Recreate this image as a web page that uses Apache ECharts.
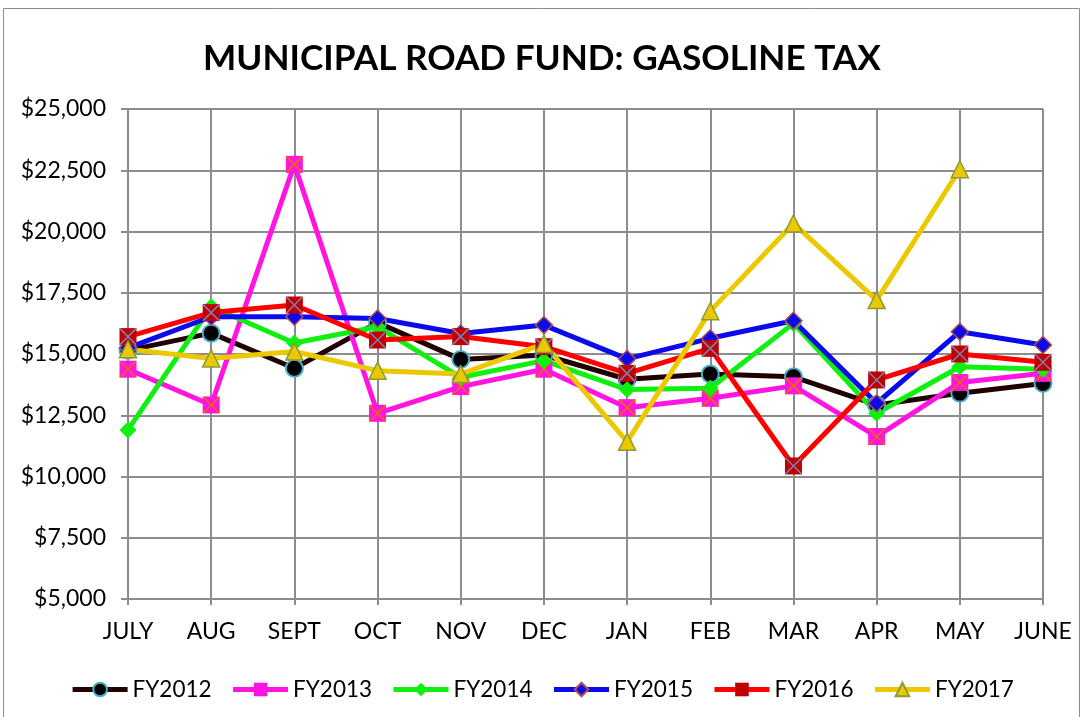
<!DOCTYPE html>
<html>
<head>
<meta charset="utf-8">
<title>Municipal Road Fund: Gasoline Tax</title>
<script src="https://cdn.jsdelivr.net/npm/echarts@6/dist/echarts.min.js"></script>
<style>
  html, body { margin: 0; padding: 0; background: #fff; }
  #chart { width: 1084px; height: 717px; }
</style>
</head>
<body>
<div id="chart"></div>
<script>
var months = ["JULY", "AUG", "SEPT", "OCT", "NOV", "DEC", "JAN", "FEB", "MAR", "APR", "MAY", "JUNE"];
var fy2012 = [15150, 15850, 14420, 16280, 14780, 14960, 13970, 14180, 14070, 12920, 13400, 13800];
var fy2013 = [14380, 12920, 22740, 12580, 13670, 14380, 12810, 13190, 13700, 11630, 13840, 14210];
var fy2014 = [11900, 16930, 15450, 16110, 14050, 14730, 13550, 13600, 16250, 12580, 14480, 14380];
var fy2015 = [15250, 16520, 16520, 16450, 15840, 16180, 14800, 15640, 16360, 12990, 15910, 15370];
var fy2016 = [15710, 16690, 17000, 15570, 15710, 15300, 14210, 15230, 10430, 13940, 15000, 14660];
var fy2017 = [15190, 14820, 15100, 14320, 14180, 15410, 11420, 16750, 20330, 17200, 22540, null];

var chart = echarts.init(document.getElementById("chart"));
var font = "Lato, 'Open Sans', sans-serif";
var crossPath = "path://M0,0L10,10M10,0L0,10";

function lineSeries(name, data, lineColor, symbol, fill, border, borderWidth) {
    return {
        name: name,
        type: "line",
        data: data,
        symbol: symbol,
        symbolSize: 17,
        showAllSymbol: true,
        connectNulls: false,
        lineStyle: { color: lineColor, width: 5 },
        itemStyle: { color: fill, borderColor: border, borderWidth: borderWidth },
        emphasis: { disabled: true }
    };
}

// X drawn on top of the square markers
function crossSeries(name, data, color) {
    return {
        name: name,
        type: "line",
        data: data,
        symbol: crossPath,
        symbolSize: 16,
        showAllSymbol: true,
        lineStyle: { width: 0, opacity: 0 },
        itemStyle: { color: "none", borderColor: color, borderWidth: 1.5 },
        emphasis: { disabled: true },
        silent: true
    };
}

chart.setOption({
    animation: false,
    backgroundColor: "#fff",
    graphic: [{
        type: "rect",
        shape: { x: 3.5, y: 8.5, width: 1076, height: 720 },
        style: { fill: "none", stroke: "#8c8c8c", lineWidth: 1 },
        z: -1
    }],
    title: {
        text: "MUNICIPAL ROAD FUND: GASOLINE TAX",
        left: "center",
        top: 36,
        textStyle: { fontFamily: font, fontWeight: "bold", fontSize: 35.2, color: "#000" }
    },
    legend: {
        data: ["FY2012", "FY2013", "FY2014", "FY2015", "FY2016", "FY2017"],
        left: "center",
        top: 673,
        itemWidth: 55,
        itemHeight: 17,
        itemGap: 19,
        lineStyle: { width: 5 },
        textStyle: { fontFamily: font, fontSize: 22.5, color: "#000" }
    },
    grid: { left: 128, right: 41, top: 109, bottom: 118, containLabel: false },
    xAxis: {
        type: "category",
        data: months,
        boundaryGap: false,
        axisLine: { lineStyle: { color: "#8c8c8c", width: 2 } },
        axisTick: { show: true, length: 6, lineStyle: { color: "#8c8c8c", width: 2 } },
        axisLabel: { fontFamily: font, fontSize: 23, color: "#000", margin: 21 },
        splitLine: { show: true, lineStyle: { color: "#8c8c8c", width: 2 } }
    },
    yAxis: {
        type: "value",
        min: 5000,
        max: 25000,
        interval: 2500,
        axisLine: { show: true, lineStyle: { color: "#8c8c8c", width: 2 } },
        axisTick: { show: true, length: 7, lineStyle: { color: "#8c8c8c", width: 2 } },
        axisLabel: {
            fontFamily: font, fontSize: 23, color: "#000", margin: 22,
            formatter: function (v) { return "$" + v.toLocaleString("en-US"); }
        },
        splitLine: { lineStyle: { color: "#8c8c8c", width: 2 } }
    },
    series: [
        lineSeries("FY2012", fy2012, "#200000", "circle", "#000", "#4bacc6", 2),
        lineSeries("FY2013", fy2013, "#ff14e0", "rect", "#ff14e0", "#ff14e0", 0),
        crossSeries("FY2013x", fy2013, "#e46c0a"),
        lineSeries("FY2014", fy2014, "#10f010", "diamond", "#10f010", "#10f010", 0),
        lineSeries("FY2015", fy2015, "#0a0aeb", "diamond", "#0a0aeb", "#b0504d", 1.5),
        lineSeries("FY2016", fy2016, "#ff0000", "rect", "#c00000", "#c00000", 0),
        crossSeries("FY2016x", fy2016, "#7f7fb0"),
        lineSeries("FY2017", fy2017, "#ecc800", "triangle", "#ecc800", "#8c9a3c", 1.5)
    ]
});
</script>
</body>
</html>
